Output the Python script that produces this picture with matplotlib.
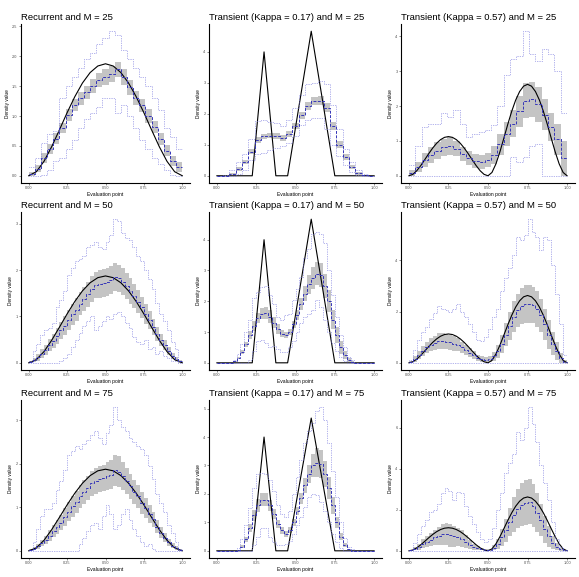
import matplotlib.pyplot as plt
import numpy as np
from matplotlib.ticker import FormatStrFormatter

plt.rcParams["font.family"] = ["Liberation Sans", "DejaVu Sans"]

# true densities
true_beta_x = [0.0, 0.05, 0.1, 0.15, 0.2, 0.25, 0.3, 0.35, 0.4, 0.45, 0.5,
               0.55, 0.6, 0.65, 0.7, 0.75, 0.8, 0.85, 0.9, 0.95, 1.0]
true_beta_y = [0, 0.068, 0.243, 0.488, 0.768, 1.055, 1.323, 1.553, 1.728, 1.838, 1.875,
               1.838, 1.728, 1.553, 1.323, 1.055, 0.768, 0.488, 0.243, 0.068, 0]
true_tri_x = [0.0, 0.225, 0.3, 0.375, 0.45, 0.6, 0.75, 1.0]
true_tri_y = [0, 0, 4.0, 0, 0, 4.667, 0, 0]
true_mix_x = [0.0, 0.025, 0.05, 0.075, 0.1, 0.125, 0.15, 0.175, 0.2, 0.225, 0.25,
              0.275, 0.3, 0.325, 0.35, 0.375, 0.4, 0.425, 0.45, 0.475, 0.5,
              0.525, 0.55, 0.575, 0.6, 0.625, 0.65, 0.675, 0.7, 0.725, 0.75,
              0.775, 0.8, 0.825, 0.85, 0.875, 0.9, 0.925, 0.95, 0.975, 1.0]
true_mix_y = [0, 0.041, 0.146, 0.293, 0.461, 0.633, 0.794, 0.932, 1.037, 1.103, 1.125,
              1.103, 1.037, 0.932, 0.794, 0.633, 0.461, 0.293, 0.146, 0.041, 0,
              0.095, 0.340, 0.683, 1.075, 1.477, 1.852, 2.174, 2.419, 2.573, 2.625,
              2.573, 2.419, 2.174, 1.852, 1.477, 1.075, 0.683, 0.340, 0.095, 0]

# ---- M = 25 (25 bins) ----
rec25_mean = [0.03, 0.12, 0.30, 0.45, 0.62, 0.80, 1.02, 1.18, 1.30, 1.40, 1.50, 1.60, 1.65,
              1.70, 1.78, 1.65, 1.48, 1.30, 1.18, 1.00, 0.82, 0.62, 0.42, 0.25, 0.15]
rec25_half = [0.04, 0.06, 0.08, 0.08, 0.09, 0.09, 0.10, 0.10, 0.11, 0.11, 0.12, 0.12, 0.13,
              0.13, 0.13, 0.13, 0.12, 0.12, 0.11, 0.11, 0.10, 0.10, 0.09, 0.08, 0.08]
rec25_max = [0.15, 0.30, 0.55, 0.70, 0.75, 1.30, 1.50, 1.65, 1.80, 1.95, 2.05, 2.20, 2.30,
             2.42, 2.35, 2.10, 1.95, 1.80, 1.65, 1.50, 1.30, 1.10, 0.80, 0.65, 0.45]
rec25_min = [0.0, 0.0, 0.02, 0.10, 0.25, 0.30, 0.45, 0.60, 0.80, 0.95, 1.05, 1.15, 1.30,
             1.30, 1.05, 1.18, 1.00, 0.80, 0.60, 0.45, 0.30, 0.20, 0.10, 0.02, 0.0]

k17_25_mean = [0, 0, 0.05, 0.22, 0.45, 0.78, 1.15, 1.27, 1.30, 1.28, 1.22, 1.35, 1.60,
               1.95, 2.25, 2.42, 2.42, 2.20, 1.60, 1.00, 0.60, 0.28, 0.08, 0.02, 0]
k17_25_half = [0, 0, 0.03, 0.05, 0.07, 0.08, 0.09, 0.09, 0.09, 0.09, 0.09, 0.09, 0.10,
               0.11, 0.12, 0.13, 0.14, 0.14, 0.13, 0.11, 0.09, 0.07, 0.05, 0.02, 0]
k17_25_max = [0, 0.02, 0.20, 0.45, 0.70, 1.20, 1.78, 1.80, 1.75, 1.72, 1.60, 1.80, 2.20,
              2.60, 2.95, 3.00, 3.05, 2.95, 2.30, 1.50, 0.85, 0.45, 0.20, 0.05, 0]
k17_25_min = [0, 0, 0, 0.05, 0.20, 0.50, 0.70, 0.75, 0.82, 0.90, 0.95, 1.05, 1.30,
              1.65, 1.80, 1.85, 1.85, 1.50, 1.00, 0.65, 0.35, 0.12, 0.03, 0, 0]

k57_25_mean = [0.08, 0.25, 0.45, 0.60, 0.72, 0.82, 0.85, 0.78, 0.62, 0.50, 0.42, 0.40, 0.45,
               0.60, 0.90, 1.20, 1.50, 1.85, 2.15, 2.20, 2.05, 1.75, 1.40, 1.05, 0.50]
k57_25_half = [0.10, 0.15, 0.20, 0.22, 0.25, 0.25, 0.25, 0.22, 0.20, 0.20, 0.20, 0.20, 0.20,
               0.25, 0.30, 0.35, 0.40, 0.45, 0.50, 0.50, 0.50, 0.45, 0.40, 0.45, 0.50]
k57_25_max = [0.30, 0.85, 1.40, 1.50, 1.50, 1.80, 1.70, 1.90, 1.50, 1.10, 1.20, 1.25, 1.30,
              1.45, 2.00, 2.90, 3.35, 3.45, 4.15, 3.50, 3.30, 3.65, 3.50, 3.00, 1.80]
k57_25_min = [0, 0, 0, 0, 0, 0, 0, 0, 0, 0, 0, 0, 0,
              0, 0, 0, 0.55, 0.40, 0.55, 0.85, 0.90, 0, 0, 0, 0]

# ---- M = 50 ----
rec50_mean = [0.02, 0.06, 0.12, 0.20, 0.28, 0.38, 0.48, 0.58, 0.70, 0.80, 0.92, 1.05, 1.15, 1.28,
              1.38, 1.48, 1.60, 1.68, 1.70, 1.72, 1.75, 1.78, 1.85, 1.82, 1.75, 1.65, 1.55,
              1.45, 1.32, 1.20, 1.05, 0.92, 0.78, 0.62, 0.50, 0.38, 0.25, 0.15, 0.08, 0.03]
rec50_half = [0.03, 0.05, 0.07, 0.09, 0.11, 0.13, 0.15, 0.17, 0.19, 0.21, 0.22, 0.23, 0.24, 0.25,
              0.26, 0.27, 0.28, 0.29, 0.30, 0.30, 0.30, 0.30, 0.30, 0.30, 0.29, 0.28, 0.27,
              0.26, 0.25, 0.23, 0.21, 0.19, 0.17, 0.15, 0.13, 0.11, 0.09, 0.07, 0.05, 0.03]
rec50_max = [0.05, 0.25, 0.40, 0.60, 0.70, 0.75, 0.85, 1.20, 1.35, 1.55, 1.90, 2.05, 2.20, 2.25,
             2.30, 2.50, 2.55, 2.60, 2.50, 2.45, 2.60, 2.75, 3.10, 3.05, 2.80, 2.70, 2.65,
             2.50, 2.30, 2.20, 2.00, 1.80, 1.60, 1.30, 1.05, 0.90, 0.70, 0.45, 0.30, 0.05]
rec50_min = [0, 0, 0, 0, 0, 0, 0, 0, 0.05, 0.10, 0.20, 0.35, 0.50, 0.65,
             0.80, 0.90, 1.00, 0.70, 0.80, 0.90, 1.00, 0.95, 1.05, 1.10, 1.00, 0.85, 0.75,
             0.55, 0.45, 0.40, 0.50, 0.30, 0.35, 0.20, 0.25, 0.15, 0.10, 0.05, 0.03, 0]

k17_50_mean = [0, 0, 0, 0, 0.05, 0.15, 0.35, 0.60, 0.90, 1.20, 1.45, 1.60, 1.62, 1.50,
               1.30, 1.10, 0.95, 0.90, 1.00, 1.25, 1.55, 1.90, 2.25, 2.55, 2.75, 2.90, 2.85,
               2.50, 2.00, 1.40, 0.90, 0.50, 0.25, 0.10, 0.03, 0, 0, 0, 0, 0]
k17_50_half = [0, 0, 0, 0, 0.01, 0.03, 0.06, 0.09, 0.12, 0.15, 0.17, 0.18, 0.20, 0.20,
               0.18, 0.15, 0.12, 0.10, 0.10, 0.12, 0.15, 0.20, 0.25, 0.30, 0.35, 0.38, 0.40,
               0.38, 0.35, 0.30, 0.25, 0.20, 0.12, 0.06, 0.02, 0, 0, 0, 0, 0]
k17_50_max = [0, 0, 0, 0, 0.10, 0.30, 0.60, 1.00, 1.40, 2.10, 2.30, 2.45, 2.50, 2.20,
              1.90, 1.50, 1.40, 1.55, 1.60, 2.05, 2.40, 2.80, 3.40, 3.70, 4.20, 4.25, 4.20,
              3.90, 3.00, 2.20, 1.50, 0.90, 0.50, 0.20, 0.08, 0, 0, 0, 0, 0]
k17_50_min = [0, 0, 0, 0, 0, 0, 0, 0, 0.10, 0.40, 0.70, 0.75, 0.65, 0.50,
              0.55, 0.45, 0.35, 0.35, 0.50, 0.70, 1.00, 1.30, 1.50, 1.60, 1.70, 2.05, 1.80,
              1.40, 1.00, 0.65, 0.40, 0.20, 0.05, 0, 0, 0, 0, 0, 0, 0]

k57_50_mean = [0.03, 0.15, 0.30, 0.45, 0.60, 0.70, 0.78, 0.85, 0.85, 0.82, 0.80, 0.75, 0.70, 0.60,
               0.50, 0.40, 0.30, 0.20, 0.15, 0.12, 0.15, 0.25, 0.45, 0.75, 1.10, 1.45, 1.80,
               2.05, 2.20, 2.30, 2.30, 2.25, 2.10, 1.85, 1.50, 1.10, 0.75, 0.45, 0.20, 0.05]
k57_50_half = [0.03, 0.10, 0.15, 0.20, 0.22, 0.25, 0.28, 0.30, 0.30, 0.30, 0.30, 0.28, 0.25, 0.22,
               0.20, 0.18, 0.15, 0.12, 0.10, 0.10, 0.12, 0.18, 0.25, 0.35, 0.45, 0.55, 0.60,
               0.65, 0.70, 0.75, 0.75, 0.70, 0.70, 0.65, 0.60, 0.55, 0.45, 0.35, 0.20, 0.05]
k57_50_max = [0.10, 0.50, 0.90, 1.20, 1.40, 1.70, 1.95, 2.20, 2.10, 2.05, 2.00, 2.10, 2.30, 2.00,
              1.80, 1.50, 1.20, 0.90, 0.85, 1.00, 1.30, 1.80, 2.10, 2.80, 3.30, 3.70, 4.20,
              4.90, 4.80, 5.00, 5.60, 5.10, 4.90, 4.40, 4.90, 4.80, 3.80, 2.70, 1.50, 0.30]
k57_50_min = [0] * 40

# ---- M = 75 ----
rec75_mean = [0.02, 0.05, 0.10, 0.18, 0.25, 0.35, 0.45, 0.55, 0.65, 0.78, 0.90, 1.02, 1.12, 1.25,
              1.35, 1.45, 1.55, 1.60, 1.65, 1.68, 1.72, 1.75, 1.85, 1.82, 1.72, 1.60, 1.48,
              1.35, 1.25, 1.10, 0.98, 0.85, 0.72, 0.55, 0.42, 0.30, 0.20, 0.12, 0.06, 0.02]
rec75_half = [0.02, 0.04, 0.06, 0.08, 0.10, 0.12, 0.14, 0.16, 0.18, 0.20, 0.22, 0.24, 0.25, 0.26,
              0.27, 0.28, 0.29, 0.30, 0.30, 0.30, 0.32, 0.33, 0.35, 0.35, 0.33, 0.30, 0.29,
              0.28, 0.27, 0.25, 0.23, 0.20, 0.18, 0.15, 0.12, 0.10, 0.08, 0.06, 0.04, 0.02]
rec75_max = [0.02, 0.20, 0.50, 0.80, 0.95, 0.95, 1.10, 1.40, 1.60, 1.85, 2.20, 2.30, 2.40, 2.35,
             2.45, 2.55, 2.65, 2.75, 2.60, 2.45, 2.70, 2.90, 3.30, 3.00, 2.85, 2.75, 2.60,
             2.50, 2.40, 2.35, 2.20, 1.95, 1.65, 1.30, 1.10, 0.90, 0.60, 0.40, 0.20, 0.05]
rec75_min = [0, 0, 0, 0, 0, 0, 0, 0, 0, 0, 0, 0, 0, 0.15,
             0.30, 0.45, 0.60, 0.65, 0.50, 0.80, 1.05, 0.85, 0.50, 0.60, 0.85, 0.95, 0.70,
             0.50, 0.35, 0.20, 0.10, 0.15, 0.05, 0, 0, 0, 0, 0, 0, 0]

k17_75_mean = [0, 0, 0, 0, 0, 0.02, 0.15, 0.40, 0.80, 1.25, 1.60, 1.80, 1.80, 1.60,
               1.30, 0.95, 0.72, 0.60, 0.72, 1.00, 1.40, 1.85, 2.30, 2.70, 3.00, 3.10, 3.05,
               2.70, 2.20, 1.60, 1.00, 0.50, 0.20, 0.05, 0, 0, 0, 0, 0, 0]
k17_75_half = [0, 0, 0, 0, 0, 0.01, 0.05, 0.10, 0.15, 0.20, 0.22, 0.22, 0.22, 0.20,
               0.18, 0.15, 0.12, 0.10, 0.10, 0.12, 0.15, 0.20, 0.25, 0.30, 0.40, 0.50, 0.50,
               0.45, 0.38, 0.30, 0.20, 0.12, 0.06, 0.02, 0, 0, 0, 0, 0, 0]
k17_75_max = [0, 0, 0, 0, 0, 0.10, 0.40, 0.90, 1.50, 2.20, 2.70, 2.75, 2.70, 2.50,
              2.10, 1.60, 1.30, 1.20, 1.40, 2.00, 2.60, 3.20, 3.80, 4.20, 4.50, 4.90, 5.05,
              4.60, 3.80, 2.80, 1.90, 1.00, 0.45, 0.15, 0.05, 0, 0, 0, 0, 0]
k17_75_min = [0, 0, 0, 0, 0, 0, 0, 0, 0, 0.20, 0.50, 0.80, 0.80, 0.50,
              0.30, 0.20, 0.20, 0.25, 0.35, 0.60, 0.90, 1.20, 1.55, 1.90, 2.00, 1.95, 1.70,
              1.40, 1.00, 0.60, 0.30, 0.10, 0, 0, 0, 0, 0, 0, 0, 0]

k57_75_mean = [0.02, 0.10, 0.20, 0.35, 0.45, 0.55, 0.65, 0.72, 0.80, 0.82, 0.75, 0.70, 0.68, 0.60,
               0.45, 0.30, 0.20, 0.12, 0.08, 0.05, 0.06, 0.15, 0.35, 0.65, 1.00, 1.40, 1.75,
               2.05, 2.25, 2.35, 2.40, 2.20, 1.85, 1.50, 1.05, 0.70, 0.40, 0.20, 0.08, 0.02]
k57_75_half = [0.02, 0.08, 0.15, 0.22, 0.28, 0.32, 0.38, 0.42, 0.50, 0.55, 0.55, 0.50, 0.45, 0.40,
               0.32, 0.22, 0.15, 0.10, 0.06, 0.04, 0.05, 0.12, 0.25, 0.40, 0.55, 0.70, 0.85,
               0.95, 1.05, 1.10, 1.10, 1.05, 0.95, 0.80, 0.65, 0.50, 0.32, 0.18, 0.08, 0.02]
k57_75_max = [0.05, 0.40, 0.80, 1.20, 1.50, 1.90, 2.00, 2.30, 2.80, 3.05, 2.90, 2.50, 2.85, 2.80,
              2.20, 1.70, 1.30, 0.90, 0.60, 0.45, 0.60, 1.10, 2.00, 2.80, 3.80, 4.30, 4.70,
              5.80, 5.40, 6.00, 7.00, 6.20, 5.30, 4.20, 3.30, 2.50, 1.40, 0.60, 0.20, 0.03]
k57_75_min = [0] * 40

titles = [
    "Recurrent and M = 25", "Transient (Kappa = 0.17) and M = 25", "Transient (Kappa = 0.57) and M = 25",
    "Recurrent and M = 50", "Transient (Kappa = 0.17) and M = 50", "Transient (Kappa = 0.57) and M = 50",
    "Recurrent and M = 75", "Transient (Kappa = 0.17) and M = 75", "Transient (Kappa = 0.57) and M = 75",
]
x_ticks = [0.0, 0.25, 0.5, 0.75, 1.0]
y_ticks = [
    [0.0, 0.5, 1.0, 1.5, 2.0, 2.5], [0, 1, 2, 3, 4], [0, 1, 2, 3, 4],
    [0, 1, 2, 3], [0, 1, 2, 3, 4], [0, 2, 4],
    [0, 1, 2, 3], [0, 1, 2, 3, 4, 5], [0, 2, 4, 6],
]

series = [
    (rec25_mean, rec25_half, rec25_min, rec25_max, true_beta_x, true_beta_y),
    (k17_25_mean, k17_25_half, k17_25_min, k17_25_max, true_tri_x, true_tri_y),
    (k57_25_mean, k57_25_half, k57_25_min, k57_25_max, true_mix_x, true_mix_y),
    (rec50_mean, rec50_half, rec50_min, rec50_max, true_beta_x, true_beta_y),
    (k17_50_mean, k17_50_half, k17_50_min, k17_50_max, true_tri_x, true_tri_y),
    (k57_50_mean, k57_50_half, k57_50_min, k57_50_max, true_mix_x, true_mix_y),
    (rec75_mean, rec75_half, rec75_min, rec75_max, true_beta_x, true_beta_y),
    (k17_75_mean, k17_75_half, k17_75_min, k17_75_max, true_tri_x, true_tri_y),
    (k57_75_mean, k57_75_half, k57_75_min, k57_75_max, true_mix_x, true_mix_y),
]

W, H = 579, 577
col_px = [(21, 190), (209, 382), (401, 575)]
row_px = [(24, 183), (212, 370), (400, 558)]

band_col = "#c4c4c4"
mean_col = "#3535b8"
env_col = "#8080e0"

fig = plt.figure(figsize=(W / 100, H / 100), dpi=100)

for i in range(9):
    r, c = divmod(i, 3)
    l, rr = col_px[c]
    t, b = row_px[r]
    ax = fig.add_axes([l / W, 1 - b / H, (rr - l) / W, (b - t) / H])
    mean, half, lo_env, hi_env, tx, ty = series[i]
    mean = np.array(mean)
    half = np.array(half)
    edges = np.linspace(0, 1, len(mean) + 1)
    lo = np.clip(mean - half, 0, None)
    hi = mean + half

    ax.stairs(hi, edges, baseline=lo, fill=True, color=band_col, lw=0, zorder=1)
    ax.plot(tx, ty, color="black", lw=0.8, zorder=2)
    for env in (hi_env, lo_env):
        ax.stairs(env, edges, baseline=None, color=env_col, lw=0.6,
                  linestyle=(0, (0.8, 1.3)), zorder=3)
    ax.stairs(mean, edges, baseline=None, color=mean_col, lw=0.7,
              linestyle=(0, (3, 1.5)), zorder=4)

    ymax = max(max(hi_env), max(hi), max(ty))
    ax.set_xlim(-0.05, 1.05)
    ax.set_ylim(-0.05 * ymax, 1.05 * ymax)
    ax.set_xticks(x_ticks)
    ax.xaxis.set_major_formatter(FormatStrFormatter("%.2f"))
    ax.set_yticks(y_ticks[i])
    ax.yaxis.set_major_formatter(FormatStrFormatter("%.1f" if i == 0 else "%d"))

    ax.set_title(titles[i], loc="left", fontsize=6.8, pad=3)
    ax.set_xlabel("Evaluation point", fontsize=3.6, labelpad=1.2)
    ax.set_ylabel("Density value", fontsize=3.4, labelpad=1.8)
    ax.tick_params(labelsize=2.8, length=1.5, width=0.4, pad=1.0,
                   color="#333333", labelcolor="#4d4d4d")
    for s in ("top", "right"):
        ax.spines[s].set_visible(False)
    for s in ("left", "bottom"):
        ax.spines[s].set_linewidth(0.8)

fig.savefig("out.png", dpi=100)
